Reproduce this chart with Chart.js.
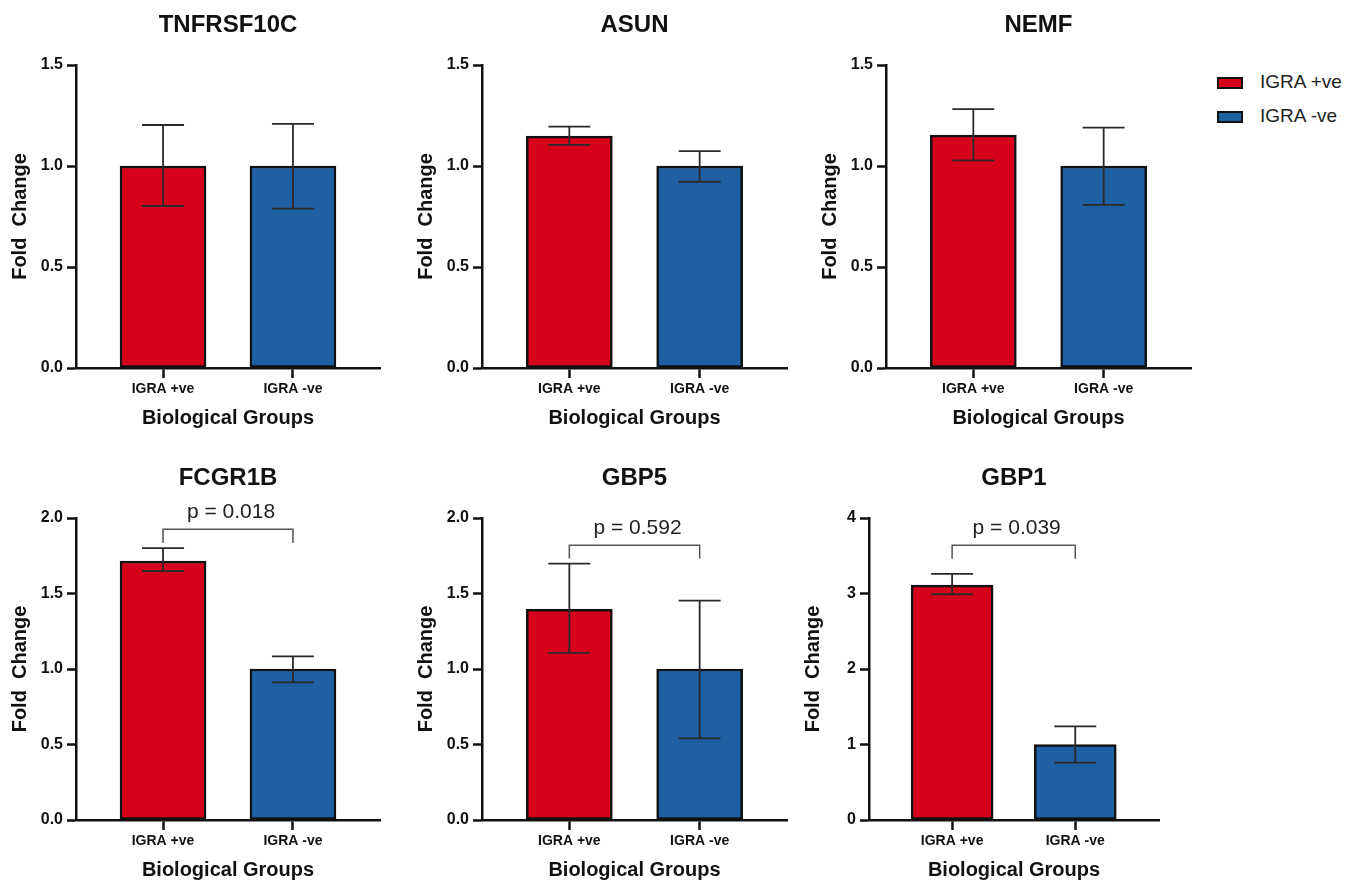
<!DOCTYPE html>
<html>
<head>
<meta charset="utf-8">
<script src="https://cdn.jsdelivr.net/npm/chart.js@4.4.1/dist/chart.umd.min.js"></script>
<style>
  html, body { margin: 0; padding: 0; background: #fff; overflow: hidden; }
  body { width: 1349px; height: 880px; position: relative; font-family: "Liberation Sans", Arial, sans-serif; }
  canvas { position: absolute; }
  .legend { position: absolute; left: 1217px; top: 70px; z-index: 5; }
  .legend div { position: relative; height: 34px; }
  .legend span.box { position: absolute; left: 0; top: 7px; width: 22px; height: 8px; border: 2px solid #111; }
  .legend span.lbl { position: absolute; left: 43px; top: 0; font-size: 19px; line-height: 24px; color: #222; white-space: nowrap; }
</style>
</head>
<body>
<div class="legend" id="legend"></div>
<script>
// data
const genes = ['TNFRSF10C', 'ASUN', 'NEMF', 'FCGR1B', 'GBP5', 'GBP1'];
const groups = ['IGRA +ve', 'IGRA -ve'];
const posMean = [1.0, 1.148, 1.153, 1.715, 1.395, 3.11];
const negMean = [1.0, 1.0, 1.0, 1.0, 1.0, 1.0];
const posHigh = [1.203, 1.195, 1.282, 1.80, 1.698, 3.26];
const posLow = [0.802, 1.105, 1.028, 1.649, 1.107, 2.99];
const negHigh = [1.209, 1.074, 1.19, 1.083, 1.453, 1.24];
const negLow = [0.789, 0.922, 0.808, 0.911, 0.540, 0.76];
const yMax = [1.5, 1.5, 1.5, 2.0, 2.0, 4];
const yStep = [0.5, 0.5, 0.5, 0.5, 0.5, 1];
const pValues = [null, null, null, '0.018', '0.592', '0.039'];
const bracketTop = [null, null, null, 1.925, 1.82, 3.64];
const bracketLeg = [null, null, null, 1.834, 1.732, 3.46];

const colors = ['#d7001b', '#1f60a2'];
const FONT = '"Liberation Sans", Arial, sans-serif';

// panel placement (page pixels)
const panels = [
  { left: 0, top: 0, len: 304, h: 440, bar: 86, tTop: 10.6, tBot: 25.6 },
  { left: 406, top: 0, len: 305, h: 440, bar: 86, tTop: 10.6, tBot: 25.6 },
  { left: 810, top: 0, len: 305, h: 440, bar: 86, tTop: 10.6, tBot: 25.6 },
  { left: 0, top: 440, len: 304, h: 452, bar: 86, tTop: 24, tBot: 25.2 },
  { left: 406, top: 440, len: 305, h: 452, bar: 86, tTop: 24, tBot: 25.2 },
  { left: 793, top: 440, len: 290, h: 452, bar: 82, tTop: 24, tBot: 25.2 }
];
const AXW = 76;

// legend
const legendEl = document.getElementById('legend');
groups.forEach((g, i) => {
  const row = document.createElement('div');
  row.innerHTML = '<span class="box" style="background:' + colors[i] + '"></span><span class="lbl">' + g + '</span>';
  legendEl.appendChild(row);
});

const errorPlugin = {
  id: 'errorBars',
  afterDatasetsDraw(chart) {
    const k = chart.config.options.panelIndex;
    const ctx = chart.ctx;
    const x = chart.scales.x, y = chart.scales.y;
    const hi = [posHigh[k], negHigh[k]];
    const lo = [posLow[k], negLow[k]];
    ctx.save();
    ctx.strokeStyle = '#2a2a2a';
    ctx.lineWidth = 1.8;
    for (let i = 0; i < groups.length; i++) {
      const px = x.getPixelForValue(i);
      const yh = y.getPixelForValue(hi[i]);
      const yl = y.getPixelForValue(lo[i]);
      ctx.beginPath();
      ctx.moveTo(px, yh); ctx.lineTo(px, yl);
      ctx.moveTo(px - 21, yh); ctx.lineTo(px + 21, yh);
      ctx.moveTo(px - 21, yl); ctx.lineTo(px + 21, yl);
      ctx.stroke();
    }
    if (pValues[k]) {
      const x0 = x.getPixelForValue(0), x1 = x.getPixelForValue(1);
      const yt = y.getPixelForValue(bracketTop[k]);
      const yl = y.getPixelForValue(bracketLeg[k]);
      ctx.strokeStyle = '#555';
      ctx.lineWidth = 1.5;
      ctx.beginPath();
      ctx.moveTo(x0, yl); ctx.lineTo(x0, yt); ctx.lineTo(x1, yt); ctx.lineTo(x1, yl);
      ctx.stroke();
      ctx.fillStyle = '#222';
      ctx.font = '21px ' + FONT;
      ctx.textAlign = 'center';
      ctx.textBaseline = 'middle';
      ctx.fillText('p = ' + pValues[k], (x0 + x1) / 2 + 3, yt - 17);
    }
    ctx.restore();
  }
};

genes.forEach((gene, k) => {
  const p = panels[k];
  const canvas = document.createElement('canvas');
  const w = AXW + p.len + 2;
  canvas.width = w;
  canvas.height = p.h;
  canvas.style.left = p.left + 'px';
  canvas.style.top = p.top + 'px';
  canvas.style.width = w + 'px';
  canvas.style.height = p.h + 'px';
  document.body.appendChild(canvas);

  const means = [posMean[k], negMean[k]];
  const span = p.len === 290 ? [-0.675, 1.68] : [-0.67, 1.67];
  const dec = yStep[k] < 1 ? 1 : 0;

  new Chart(canvas.getContext('2d'), {
    type: 'bar',
    data: {
      datasets: [{
        data: groups.map((g, i) => ({ x: i, y: means[i] })),
        backgroundColor: colors,
        borderColor: '#111',
        borderWidth: 2.5,
        borderSkipped: false,
        barThickness: p.bar
      }]
    },
    options: {
      panelIndex: k,
      responsive: false,
      animation: false,
      devicePixelRatio: 1,
      layout: { padding: { left: 0, right: 2, top: 0, bottom: 0 } },
      plugins: {
        legend: { display: false },
        tooltip: { enabled: false },
        title: {
          display: true,
          fullSize: false,
          text: gene,
          color: '#111',
          font: { family: FONT, size: 24, weight: 'bold' },
          padding: { top: p.tTop, bottom: p.tBot }
        }
      },
      scales: {
        x: {
          type: 'linear',
          offset: false,
          min: span[0],
          max: span[1],
          afterBuildTicks: s => { s.ticks = groups.map((g, i) => ({ value: i })); },
          afterFit: s => { s.height = 72; },
          ticks: {
            callback: v => groups[v],
            color: '#111',
            font: { family: FONT, size: 14, weight: 'bold' },
            padding: 3,
            autoSkip: false,
            maxRotation: 0
          },
          grid: { offset: false, drawOnChartArea: false, tickLength: 10, tickWidth: 2.5, tickColor: '#111' },
          border: { color: '#111', width: 2.5 },
          title: {
            display: true,
            text: 'Biological Groups',
            color: '#111',
            font: { family: FONT, size: 20, weight: 'bold' },
            padding: { top: 0, bottom: 10 }
          }
        },
        y: {
          min: 0,
          max: yMax[k],
          afterFit: s => { s.width = AXW; },
          ticks: {
            stepSize: yStep[k],
            callback: v => v.toFixed(dec),
            color: '#111',
            font: { family: FONT, size: 16, weight: 'bold' },
            padding: 4
          },
          grid: { drawOnChartArea: false, tickLength: 9, tickWidth: 2.5, tickColor: '#111' },
          border: { color: '#111', width: 2.5 },
          title: {
            display: true,
            text: 'Fold  Change',
            color: '#111',
            font: { family: FONT, size: 20, weight: 'bold' },
            padding: { top: 8, bottom: 0 }
          }
        }
      }
    },
    plugins: [errorPlugin]
  });
});
</script>
</body>
</html>
